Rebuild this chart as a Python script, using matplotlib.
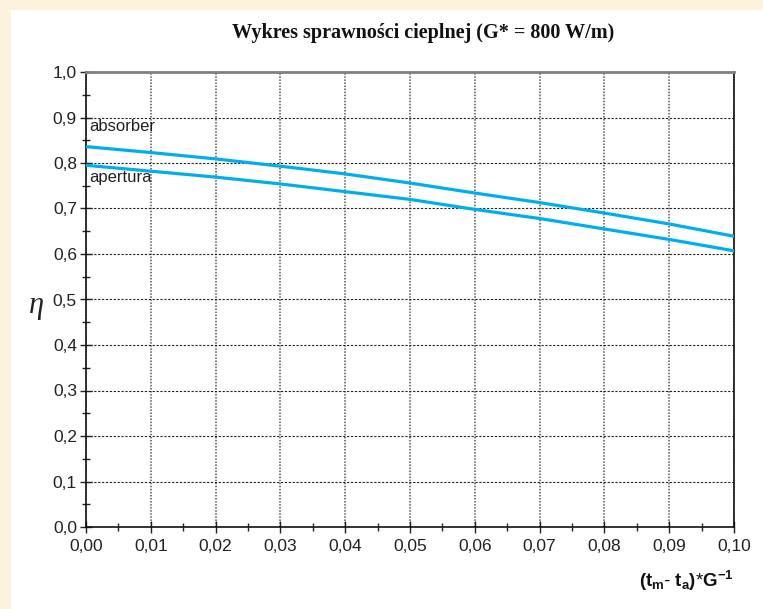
import matplotlib
matplotlib.use("Agg")
import matplotlib.pyplot as plt
from matplotlib.patches import Rectangle
from matplotlib.ticker import MultipleLocator, FuncFormatter

# ---- data ----
x_values = [0.00, 0.01, 0.02, 0.03, 0.04, 0.05, 0.06, 0.07, 0.08, 0.09, 0.10]
absorber = [0.836, 0.823, 0.809, 0.793, 0.776, 0.756, 0.734, 0.713, 0.690, 0.666, 0.639]
apertura = [0.795, 0.782, 0.769, 0.754, 0.737, 0.720, 0.698, 0.678, 0.655, 0.632, 0.607]
title = "Wykres sprawności cieplnej (G* = 800 W/m)"
label_absorber = "absorber"
label_apertura = "apertura"

plt.rcParams["mathtext.fontset"] = "custom"
plt.rcParams["mathtext.rm"] = "Liberation Sans"
plt.rcParams["mathtext.bf"] = "Liberation Sans:bold"
plt.rcParams["mathtext.it"] = "Liberation Serif:italic"

W, H = 763, 609
fig = plt.figure(figsize=(W / 100, H / 100), dpi=100)
fig.patch.set_facecolor("#FBF3DC")
fig.patches.append(Rectangle((11 / W, 0), 1 - 11 / W, 1 - 10 / H,
                             transform=fig.transFigure, facecolor="white",
                             edgecolor="none", zorder=-5))

ax = fig.add_axes([86 / W, 1 - 527 / H, (734 - 86) / W, (527 - 72) / H])
ax.set_zorder(2)
ax.set_facecolor("white")

line_color = "#00AEEF"
ax.plot(x_values, absorber, color=line_color, lw=2.3, zorder=3)
ax.plot(x_values, apertura, color=line_color, lw=2.3, zorder=3)

ax.set_xlim(0, 0.10)
ax.set_ylim(0, 1.0)

ax.xaxis.set_major_locator(MultipleLocator(0.01))
ax.xaxis.set_minor_locator(MultipleLocator(0.005))
ax.yaxis.set_major_locator(MultipleLocator(0.1))
ax.yaxis.set_minor_locator(MultipleLocator(0.05))
ax.xaxis.set_major_formatter(FuncFormatter(lambda v, p: f"{v:.2f}".replace(".", ",")))
ax.yaxis.set_major_formatter(FuncFormatter(lambda v, p: f"{v:.1f}".replace(".", ",")))

font = "Liberation Sans"
ax.tick_params(which="major", direction="inout", length=9, width=1.0,
               labelsize=12.5, colors="#222222", pad=2)
ax.tick_params(axis="x", which="major", pad=4)
ax.tick_params(which="minor", direction="inout", length=6, width=1.0, colors="#222222")
for lab in ax.get_xticklabels() + ax.get_yticklabels():
    lab.set_fontfamily(font)

ax.yaxis.grid(True, which="major", color="#222222", linestyle=(0, (2, 1.5)), lw=0.8)
ax.xaxis.grid(True, which="major", color="#555555", linestyle=(0, (1, 1)), lw=1.1)
ax.set_axisbelow(True)

for s in ["left", "bottom", "right"]:
    ax.spines[s].set_color("#111111")
    ax.spines[s].set_linewidth(1.2)
ax.spines["top"].set_color("#808080")
ax.spines["top"].set_linewidth(2.0)

ax.text(0.0005, 0.880, label_absorber, fontsize=12, family=font, color="#222222",
        ha="left", va="center")
ax.text(0.0005, 0.769, label_apertura, fontsize=12, family=font, color="#222222",
        ha="left", va="center")

fig.text(423 / W, 1 - 33 / H, title, fontsize=14.5, family="Liberation Serif",
         fontweight="bold", ha="center", va="center", color="#111111")

fig.text(36 / W, 1 - 307 / H, r"$\eta$", fontsize=22, ha="center", va="center",
         color="#222222")

fig.text(734 / W, 1 - 581 / H, r"$\mathbf{(t_{m}\text{-}\ t_{a})\text{*}G^{-1}}$",
         fontsize=13.5, ha="right", va="center", color="#111111")

fig.savefig("out.png", dpi=100, facecolor=fig.get_facecolor())
